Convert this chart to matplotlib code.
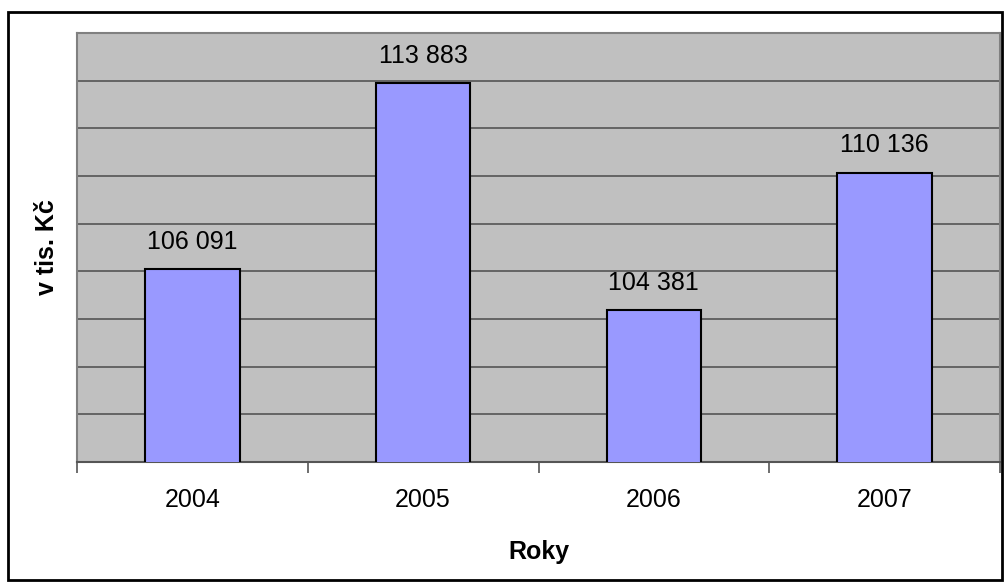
import matplotlib
matplotlib.use("Agg")
import matplotlib.pyplot as plt
import numpy as np
from matplotlib.patches import Rectangle

years = ["2004", "2005", "2006", "2007"]
values = [106091, 113883, 104381, 110136]
labels = ["106 091", "113 883", "104 381", "110 136"]

plt.rcParams["font.family"] = ["Liberation Sans", "DejaVu Sans"]

fig = plt.figure(figsize=(10.06, 5.84), dpi=100)
ax = fig.add_axes([77 / 1006, 1 - 462 / 584, 923 / 1006, 429 / 584])

ax.set_facecolor("#c0c0c0")
x = np.arange(len(years))
ax.bar(x, values, width=0.41, color="#9999ff", edgecolor="black", linewidth=1.5, zorder=3)
ax.set_xlim(-0.5, len(years) - 0.5)
ax.set_ylim(98000, 116000)
ax.set_yticks(np.arange(98000, 116001, 2000))
ax.yaxis.grid(True, color="#555555", linewidth=1.2, zorder=1)
ax.tick_params(axis="y", left=False, labelleft=False)

ax.set_xticks(x, years, fontsize=18)
ax.set_xticks(np.arange(-0.5, len(years)), minor=True)
ax.tick_params(axis="x", which="major", length=0, pad=19)
ax.tick_params(axis="x", which="minor", length=8, color="#555555", width=1.2)

for side in ["top", "left", "right"]:
    ax.spines[side].set_color("#808080")
    ax.spines[side].set_linewidth(1.5)
ax.spines["bottom"].set_color("#555555")
ax.spines["bottom"].set_linewidth(1.5)

for xi, v, t in zip(x, values, labels):
    ax.annotate(t, (xi, v), xytext=(0, 11), textcoords="offset points",
                ha="center", va="bottom", fontsize=18)

ax.set_xlabel("Roky", fontsize=18, fontweight="bold", labelpad=20)
ax.set_ylabel("v tis. Kč", fontsize=18, fontweight="bold", labelpad=13)

fig.patches.append(Rectangle((8 / 1006, 1 - 580 / 584), 994 / 1006, 568 / 584,
                             transform=fig.transFigure, fill=False,
                             edgecolor="black", linewidth=2))

fig.savefig("out.png", dpi=100)
